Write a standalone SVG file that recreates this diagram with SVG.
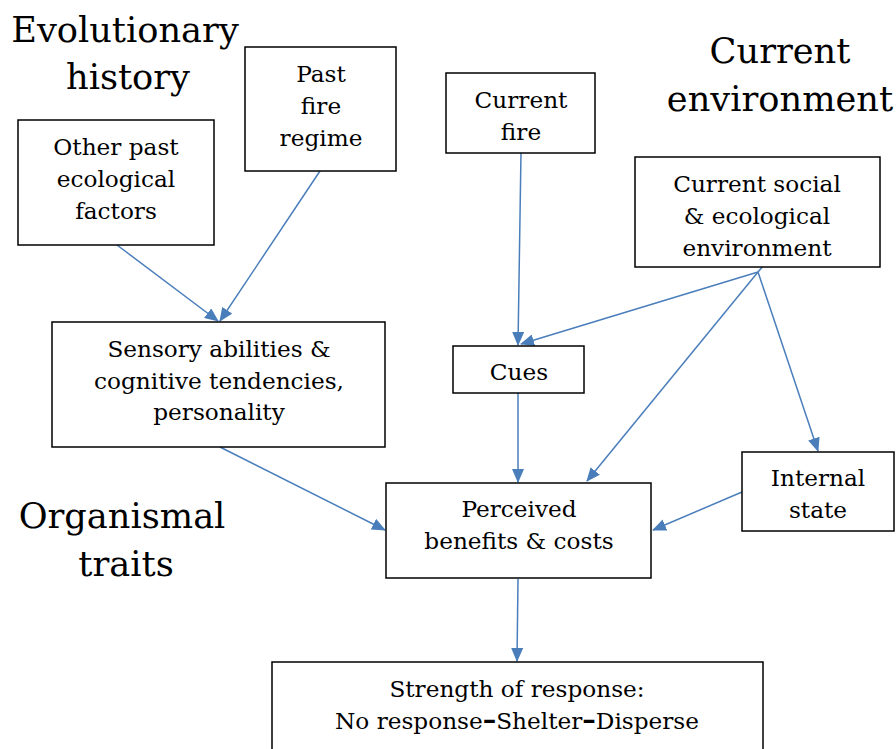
<svg xmlns="http://www.w3.org/2000/svg" width="896" height="749" viewBox="0 0 896 749">
<style>
.box{fill:#fff;stroke:#000;stroke-width:1.5}
.t{font-family:"DejaVu Serif","Liberation Serif",serif;font-size:23.2px;text-anchor:middle;fill:#000}
.h{font-family:"DejaVu Serif","Liberation Serif",serif;font-size:35.2px;text-anchor:middle;fill:#000}
.c{stroke:#4a7ebb;stroke-width:1.5;fill:none}
.d{font-weight:bold;font-size:27px}
</style>
<defs>
<marker id="ah" markerUnits="userSpaceOnUse" markerWidth="14" markerHeight="12" refX="13" refY="6" orient="auto">
<path d="M0,0 L14,6 L0,12 Z" fill="#4a7ebb"/>
</marker>
</defs>
<rect width="896" height="749" fill="#fff"/>
<g id="headings">
<text class="h" x="125" y="42">Evolutionary</text>
<text class="h" x="128" y="89">history</text>
<text class="h" x="780" y="63">Current</text>
<text class="h" x="780" y="111">environment</text>
<text class="h" x="122" y="528">Organismal</text>
<text class="h" x="126" y="576">traits</text>
</g>
<g id="connectors">
<line class="c" x1="117" y1="245" x2="218" y2="321" marker-end="url(#ah)"/>
<line class="c" x1="320" y1="171" x2="220" y2="321" marker-end="url(#ah)"/>
<line class="c" x1="521" y1="153" x2="518" y2="345" marker-end="url(#ah)"/>
<line class="c" x1="763" y1="266" x2="758" y2="272"/>
<line class="c" x1="758" y1="272" x2="521" y2="344" marker-end="url(#ah)"/>
<line class="c" x1="758" y1="272" x2="587" y2="481" marker-end="url(#ah)"/>
<line class="c" x1="758" y1="272" x2="818" y2="451" marker-end="url(#ah)"/>
<line class="c" x1="518" y1="393" x2="518" y2="482" marker-end="url(#ah)"/>
<line class="c" x1="742" y1="492" x2="653" y2="530" marker-end="url(#ah)"/>
<line class="c" x1="220" y1="447" x2="385" y2="530" marker-end="url(#ah)"/>
<line class="c" x1="518" y1="579" x2="517" y2="661" marker-end="url(#ah)"/>
</g>
<g id="other-past">
<rect class="box" x="18" y="120" width="196" height="125"/>
<text class="t" x="116" y="155">Other past</text>
<text class="t" x="116" y="187">ecological</text>
<text class="t" x="116" y="219">factors</text>
</g>
<g id="past-fire">
<rect class="box" x="245" y="47" width="151" height="124"/>
<text class="t" x="321" y="82">Past</text>
<text class="t" x="321" y="114">fire</text>
<text class="t" x="321" y="146">regime</text>
</g>
<g id="current-fire">
<rect class="box" x="446" y="73" width="149" height="80"/>
<text class="t" x="521" y="108">Current</text>
<text class="t" x="521" y="140">fire</text>
</g>
<g id="current-social">
<rect class="box" x="635" y="157" width="245" height="110"/>
<text class="t" x="757" y="192">Current social</text>
<text class="t" x="757" y="224">&amp; ecological</text>
<text class="t" x="757" y="256">environment</text>
</g>
<g id="sensory">
<rect class="box" x="52" y="322" width="333" height="125"/>
<text class="t" x="219" y="357">Sensory abilities &amp;</text>
<text class="t" x="219" y="389">cognitive tendencies,</text>
<text class="t" x="219" y="420">personality</text>
</g>
<g id="cues">
<rect class="box" x="453" y="346" width="131" height="47"/>
<text class="t" x="519" y="380">Cues</text>
</g>
<g id="perceived">
<rect class="box" x="386" y="483" width="265" height="95"/>
<text class="t" x="519" y="517">Perceived</text>
<text class="t" x="519" y="549">benefits &amp; costs</text>
</g>
<g id="internal">
<rect class="box" x="742" y="452" width="152" height="79"/>
<text class="t" x="818" y="486">Internal</text>
<text class="t" x="818" y="518">state</text>
</g>
<g id="strength">
<rect class="box" x="272" y="662" width="491" height="100"/>
<text class="t" x="517" y="697">Strength of response:</text>
<text class="t" x="517" y="729">No response<tspan class="d">–</tspan>Shelter<tspan class="d">–</tspan>Disperse</text>
</g>
</svg>
